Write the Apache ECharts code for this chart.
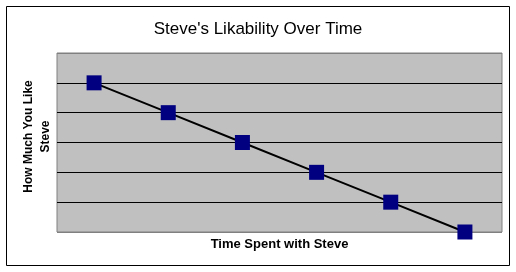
<!DOCTYPE html>
<html>
<head>
<meta charset="utf-8">
<script src="https://cdn.jsdelivr.net/npm/echarts@6/dist/echarts.min.js"></script>
<style>html,body{margin:0;padding:0;background:#fff}#c{width:516px;height:272px}</style>
</head>
<body>
<div id="c"></div>
<script>
var categories = ['1', '2', '3', '4', '5', '6'];
var likability = [5, 4, 3, 2, 1, 0];
var titleText = "Steve's Likability Over Time";
var xName = 'Time Spent with Steve';
var yName = 'How Much You Like\nSteve';

var chart = echarts.init(document.getElementById('c'), null, {renderer: 'canvas'});
chart.setOption({
  animation: false,
  backgroundColor: '#ffffff',
  title: {
    text: titleText,
    left: 'center',
    top: 16,
    textStyle: {fontFamily: 'Liberation Sans', fontSize: 17, fontWeight: 'normal', color: '#000'}
  },
  graphic: [{
    type: 'rect',
    shape: {x: 6.5, y: 6.5, width: 503, height: 259},
    style: {fill: 'none', stroke: '#000', lineWidth: 1},
    silent: true
  }],
  grid: {
    left: 57, top: 53, right: 14, bottom: 40,
    show: true, backgroundColor: '#C0C0C0', borderColor: '#808080', borderWidth: 1
  },
  xAxis: {
    type: 'category',
    data: categories,
    boundaryGap: true,
    axisLine: {show: false},
    axisTick: {show: false},
    axisLabel: {show: false},
    name: xName,
    nameLocation: 'middle',
    nameGap: 6,
    nameTextStyle: {fontFamily: 'Liberation Sans', fontSize: 13, fontWeight: 'bold', color: '#000', verticalAlign: 'top'}
  },
  yAxis: {
    type: 'value',
    min: 0, max: 6, interval: 1,
    axisLine: {show: false},
    axisTick: {show: false},
    axisLabel: {show: false},
    splitLine: {lineStyle: {color: ['#808080', '#000', '#000', '#000', '#000', '#000', '#808080'], width: 1}},
    name: yName,
    nameLocation: 'middle',
    nameGap: 3,
    nameRotate: 90,
    nameTextStyle: {fontFamily: 'Liberation Sans', fontSize: 12, fontWeight: 'bold', color: '#000', lineHeight: 17, align: 'center', padding: [0, 0, 0, 12]}
  },
  series: [{
    type: 'line',
    data: likability,
    symbol: 'rect',
    symbolSize: 15,
    itemStyle: {color: '#000080'},
    lineStyle: {color: '#000', width: 2},
    z: 3
  }]
});
</script>
</body>
</html>
